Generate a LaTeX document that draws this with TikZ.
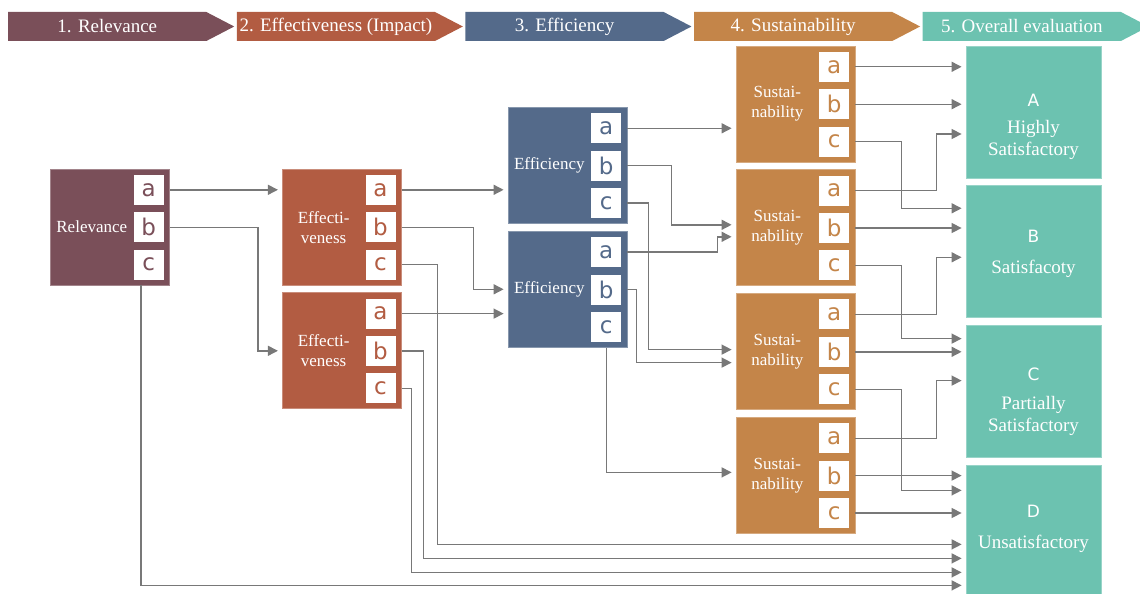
\documentclass[tikz,border=0pt]{standalone}
\usepackage{fontspec}
\setmainfont{Liberation Serif}
\newfontfamily\lettersans{DejaVu Sans}
\usepackage{tikz}
\usetikzlibrary{shapes.symbols, arrows.meta, positioning, calc}
\definecolor{relcol}{RGB}{122, 79, 89}
\definecolor{effcol}{RGB}{178, 92, 66}
\definecolor{eficol}{RGB}{84, 106, 138}
\definecolor{suscol}{RGB}{196, 133, 73}
\definecolor{evalcol}{RGB}{108, 194, 176}
\definecolor{linegray}{RGB}{120, 120, 120}

\begin{document}
\begin{tikzpicture}[
    x=1pt, y=1pt,
    node distance=7pt,
    head/.style={signal, signal to=east, signal pointer angle=55, minimum width=226pt,
        minimum height=29pt, inner sep=0pt, text=white, font=\fontsize{19}{22}\selectfont},
    block/.style={rectangle, fill=#1, draw=#1!70!white, line width=0.8pt,
        minimum width=119pt, minimum height=116pt, inner sep=0pt},
    sub/.style={rectangle, fill=white, minimum size=30pt, inner sep=0pt,
        font=\lettersans\fontsize{23}{23}\selectfont},
    lbl/.style={text=white, align=center, inner sep=0pt, font=\fontsize{17}{20}\selectfont},
    result/.style={rectangle, fill=evalcol, draw=evalcol!70!white, line width=0.8pt,
        minimum width=135pt, minimum height=132pt},
    restext/.style={text=white, align=center, inner sep=0pt, font=\fontsize{19}{22}\selectfont},
    arrow/.style={line width=1.4pt, ->, >={Triangle[length=10pt, width=10pt]}, linegray, shorten >=4pt}
]
    \useasboundingbox (0,0) rectangle (1140,-594);

    % Header: the five steps
    \node[head, fill=relcol, anchor=west] (head1) at (8,-26.5) {1. Relevance};
    \node[head, fill=effcol, right=2pt of head1] (head2) {2. Effectiveness (Impact)};
    \node[head, fill=eficol, right=2pt of head2] (head3) {3. Efficiency};
    \node[head, fill=suscol, right=2pt of head3] (head4) {4. Sustainability};
    \node[head, fill=evalcol, right=2pt of head4] (head5) {5. Overall evaluation};

    % Column 1: Relevance
    \node[block=relcol] (relev) at (110,-227) {};

    % Column 2: Effectiveness
    \node[block=effcol, right=112pt of relev] (effect1) {};
    \node[block=effcol, below=of effect1] (effect2) {};

    % Column 3: Efficiency
    \node[block=eficol] (effic1) at (567.5,-165.5) {};
    \node[block=eficol, below=of effic1] (effic2) {};

    % Column 4: Sustainability
    \node[block=suscol] (sust1) at (795.5,-104) {};
    \node[block=suscol, below=of sust1] (sust2) {};
    \node[block=suscol, below=of sust2] (sust3) {};
    \node[block=suscol, below=of sust3] (sust4) {};

    % Column 5: Overall evaluation
    \node[result] (evalA) at (1033.5,-112) {};
    \node[result, below=of evalA] (evalB) {};
    \node[result, below=of evalB] (evalC) {};
    \node[result, below=of evalC] (evalD) {};

    % a / b / c boxes
    \foreach \blk/\col in {relev/relcol, effect1/effcol, effect2/effcol, effic1/eficol, effic2/eficol,
        sust1/suscol, sust2/suscol, sust3/suscol, sust4/suscol} {
        \node[sub, text=\col, below left=6pt and 6pt of \blk.north east] (\blk-a) {a};
        \node[sub, text=\col, below=of \blk-a] (\blk-b) {b};
        \node[sub, text=\col, below=of \blk-b] (\blk-c) {c};
    }

    % Block labels
    \node[lbl] (relev-lbl) at ($(relev.west)!.5!(relev-b.west)$) {Relevance};
    \node[lbl] (effect1-lbl) at ($(effect1.west)!.5!(effect1-b.west)$) {Effecti-\\veness};
    \node[lbl] (effect2-lbl) at ($(effect2.west)!.5!(effect2-b.west)$) {Effecti-\\veness};
    \node[lbl] (effic1-lbl) at ($(effic1.west)!.5!(effic1-b.west)$) {Efficiency};
    \node[lbl] (effic2-lbl) at ($(effic2.west)!.5!(effic2-b.west)$) {Efficiency};
    \node[lbl] (sust1-lbl) at ($(sust1.west)!.5!(sust1-b.west)$) {Sustai-\\nability};
    \node[lbl] (sust2-lbl) at ($(sust2.west)!.5!(sust2-b.west)$) {Sustai-\\nability};
    \node[lbl] (sust3-lbl) at ($(sust3.west)!.5!(sust3-b.west)$) {Sustai-\\nability};
    \node[lbl] (sust4-lbl) at ($(sust4.west)!.5!(sust4-b.west)$) {Sustai-\\nability};

    % Ratings
    \node[restext] (txtA) at ([yshift=-15pt]evalA.center)
        {{\lettersans\fontsize{17}{17}\selectfont A}\\[5pt]Highly\\Satisfactory};
    \node[restext] (txtB) at ([yshift=-2.5pt]evalB.center)
        {{\lettersans\fontsize{17}{17}\selectfont B}\\[9pt]Satisfacoty};
    \node[restext] (txtC) at ([yshift=-10pt]evalC.center)
        {{\lettersans\fontsize{17}{17}\selectfont C}\\[7pt]Partially\\Satisfactory};
    \node[restext] (txtD) at ([yshift=3pt]evalD.center)
        {{\lettersans\fontsize{17}{17}\selectfont D}\\[9pt]Unsatisfactory};

    % Arrows from Relevance
    \draw[arrow] (relev-a -| relev.east) -- (relev-a -| effect1.west);
    \draw[arrow] (relev-b -| relev.east) -- ++(88,0) |- (effect2.west);
    \draw[arrow] ([xshift=31pt]relev.south) |- ([yshift=-54pt]evalD.west);

    % Arrows from Effectiveness
    \draw[arrow] (effect1-a -| effect1.east) -- (effect1-a -| effic1.west);
    \draw[arrow] (effect1-b -| effect1.east) -- ++(72,0) |- (effic2.west);
    \draw[arrow] (effect1-c -| effect1.east) -- ++(36,0) |- ([yshift=-13pt]evalD.west);
    \draw[arrow] (effect2-a -| effect2.east) -- (effect2-a -| effic2.west);
    \draw[arrow] (effect2-b -| effect2.east) -- ++(22,0) |- ([yshift=-27pt]evalD.west);
    \draw[arrow] (effect2-c -| effect2.east) -- ++(10,0) |- ([yshift=-41pt]evalD.west);

    % Arrows from Efficiency
    \draw[arrow] (effic1-a -| effic1.east) -- (effic1-a -| sust1.west);
    \draw[arrow] (effic1-b -| effic1.east) -- ++(44,0) |- ([yshift=3pt]sust2.west);
    \draw[arrow] (effic1-c -| effic1.east) -- ++(21,0) |- ([yshift=2pt]sust3.west);
    \draw[arrow] (effic2-a -| effic2.east) -- ++(90,0) |- ([yshift=-9pt]sust2.west);
    \draw[arrow] (effic2-b -| effic2.east) -- ++(9,0) |- ([yshift=-11pt]sust3.west);
    \draw[arrow] (effic2-c |- effic2.south) |- ([yshift=3pt]sust4.west);

    % Arrows from Sustainability
    \draw[arrow] (sust1-a -| sust1.east) -- (sust1-a -| evalA.west);
    \draw[arrow] (sust1-b -| sust1.east) -- (sust1-b -| evalA.west);
    \draw[arrow] (sust1-c -| sust1.east) -- ++(46,0) |- ([yshift=43.5pt]evalB.west);
    \draw[arrow] (sust2-a -| sust2.east) -- ++(81,0) |- ([yshift=-22pt]evalA.west);
    \draw[arrow] (sust2-b -| sust2.east) -- (sust2-b -| evalB.west);
    \draw[arrow] (sust2-c -| sust2.east) -- ++(46,0) |- ([yshift=53pt]evalC.west);
    \draw[arrow] (sust3-a -| sust3.east) -- ++(81,0) |- ([yshift=-5.5pt]evalB.west);
    \draw[arrow] (sust3-b -| sust3.east) -- (sust3-b -| evalC.west);
    \draw[arrow] (sust3-c -| sust3.east) -- ++(46,0) |- ([yshift=41pt]evalD.west);
    \draw[arrow] (sust4-a -| sust4.east) -- ++(81,0) |- ([yshift=11pt]evalC.west);
    \draw[arrow] (sust4-b -| sust4.east) -- (sust4-b -| evalD.west);
    \draw[arrow] (sust4-c -| sust4.east) -- (sust4-c -| evalD.west);
\end{tikzpicture}
\end{document}
